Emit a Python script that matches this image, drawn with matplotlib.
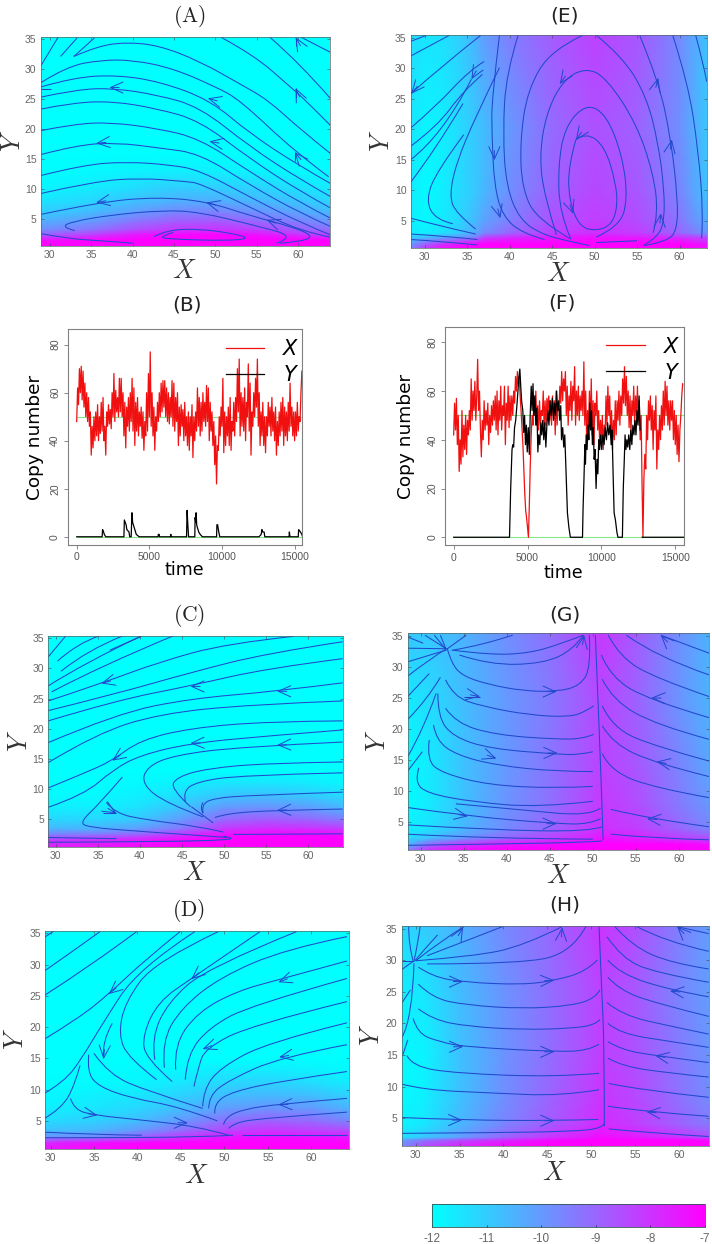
#!/usr/bin/env python3
"""
Stochastic switch figure: six landscape panels and two copy number traces.
"""

import numpy as np
import matplotlib
matplotlib.use('Agg')
import matplotlib.pyplot as plt
from matplotlib.cm import ScalarMappable
from matplotlib.colors import Normalize
from matplotlib.lines import Line2D
from matplotlib.patches import PathPatch
from matplotlib.path import Path

plt.rcParams['font.family'] = ['Liberation Sans', 'DejaVu Sans']
plt.rcParams['mathtext.fontset'] = 'cm'
plt.rcParams['axes.unicode_minus'] = False

W, H = 712, 1244
TICK_GRAY = '#666666'
LINE_BLUE = '#2148cc'

# ---- landscape values, rows run from low Y to high Y
heat_x_a = [28.9, 35, 40, 45, 50, 55, 60, 63.9]
heat_y_a = [0.5, 1.4, 2.3, 3.2, 4.5, 6, 8, 10, 13, 16, 35.3]
heat_a = [
    [-7, -7, -7, -7, -7, -7, -7, -7],
    [-7.3, -7.1, -7, -7, -7, -7, -7, -7],
    [-8.8, -8.2, -7.5, -7.1, -7.1, -7.3, -7.9, -8.3],
    [-9.8, -9.3, -8.6, -8.1, -8, -8.3, -8.8, -9.2],
    [-10.4, -10, -9.3, -8.8, -8.7, -9, -9.5, -9.9],
    [-11, -10.6, -10.1, -9.6, -9.5, -9.8, -10.2, -10.6],
    [-11.5, -11.2, -10.8, -10.5, -10.4, -10.6, -10.9, -11.2],
    [-11.8, -11.6, -11.3, -11, -11, -11.1, -11.4, -11.6],
    [-12, -11.9, -11.8, -11.7, -11.7, -11.8, -11.9, -11.9],
    [-12, -12, -12, -12, -12, -12, -12, -12],
    [-12, -12, -12, -12, -12, -12, -12, -12],
]

heat_x_e = [28.35, 30, 32, 34, 36, 37, 40, 45, 50, 55, 60, 63.2]
heat_y_e = [0.46, 1.2, 2.3, 3, 5, 10, 20, 35.4]
heat_e = [
    [-9.5, -8.2, -7.3, -7, -7, -7, -7, -7, -7, -7, -7, -7.3],
    [-10, -9, -8, -7.5, -7.1, -7, -7, -7, -7, -7, -7, -7.5],
    [-11, -10.8, -10.4, -9.9, -9.5, -8.4, -7.9, -7.6, -7.4, -7.6, -8, -8.6],
    [-11.6, -11.7, -11.4, -11, -10.3, -9.7, -9, -8.3, -7.9, -8.2, -9, -9.9],
    [-11.7, -11.9, -11.6, -11.2, -10.6, -10.2, -9.5, -8.6, -8.2, -8.5, -9.3, -10.4],
    [-11.6, -11.9, -11.7, -11.3, -10.9, -10.6, -9.8, -8.9, -8.4, -8.7, -9.6, -10.8],
    [-11.5, -11.8, -11.7, -11.3, -10.9, -10.7, -10, -9.1, -8.6, -8.9, -9.8, -10.9],
    [-11.3, -11.5, -11.4, -11.1, -10.5, -10.1, -9.5, -8.8, -8.3, -8.7, -9.7, -10.8],
]

heat_x_c = [29.1, 35, 40, 45, 50, 55, 60, 64.1]
heat_y_c = [0.42, 1.5, 2.5, 3.5, 5, 7, 9, 11, 13, 35.4]
heat_c = [
    [-7.6, -7.4, -7.2, -7, -7, -7, -7, -7],
    [-8, -7.7, -7.4, -7.1, -7, -7, -7, -7],
    [-9.5, -9.3, -8.9, -8, -7.3, -7.1, -7.1, -7.2],
    [-10.6, -10.5, -10.1, -9.3, -8.1, -7.9, -8, -8.2],
    [-11.2, -11.2, -10.9, -10, -9.1, -8.8, -9, -9.4],
    [-11.7, -11.7, -11.4, -10.8, -10, -9.9, -10.1, -10.6],
    [-11.9, -11.9, -11.7, -11.3, -10.9, -10.8, -11, -11.3],
    [-12, -12, -11.9, -11.7, -11.5, -11.5, -11.6, -11.8],
    [-12, -12, -12, -12, -12, -12, -12, -12],
    [-12, -12, -12, -12, -12, -12, -12, -12],
]

heat_x_d = [29.4, 35, 40, 45, 50, 55, 60, 64.3]
heat_y_d = [0.5, 1.5, 2.5, 3.5, 5, 7, 9, 11, 13, 15, 35.4]
heat_d = [
    [-7.4, -7.2, -7, -7, -7, -7, -7, -7],
    [-7.8, -7.3, -7.1, -7, -7, -7, -7, -7],
    [-9.9, -9.7, -9, -8.2, -7.6, -7.3, -7.4, -7.6],
    [-10.8, -10.6, -10, -9.2, -8.4, -8.1, -8.3, -8.5],
    [-11.3, -11.1, -10.7, -10, -9.2, -8.9, -9.1, -9.6],
    [-11.7, -11.5, -11.2, -10.7, -10.1, -9.9, -10, -10.5],
    [-11.9, -11.7, -11.5, -11.1, -10.7, -10.6, -10.7, -11.1],
    [-12, -11.9, -11.8, -11.5, -11.2, -11.1, -11.3, -11.6],
    [-12, -12, -11.9, -11.8, -11.6, -11.6, -11.7, -11.9],
    [-12, -12, -12, -12, -12, -12, -12, -12],
    [-12, -12, -12, -12, -12, -12, -12, -12],
]

heat_x_g = [28.5, 31, 35, 40, 45, 50, 51, 55, 60, 63.5]
heat_y_g = [0.6, 1.5, 2.5, 4, 8, 15, 25, 35.5]
heat_g = [
    [-9.5, -8, -7.4, -7, -7, -7, -7, -7, -7, -7],
    [-10.5, -9, -8, -7.5, -7.2, -7, -7, -7, -7, -7.3],
    [-11.3, -10.8, -10, -9, -8.3, -7.6, -7.4, -7.7, -8.2, -8.6],
    [-11.7, -11.4, -10.6, -9.7, -9, -8.1, -7.9, -8.2, -9, -9.6],
    [-11.9, -11.6, -10.8, -9.9, -9.2, -8.3, -8.1, -8.5, -9.4, -10],
    [-11.9, -11.6, -10.8, -10, -9.3, -8.5, -8.3, -8.7, -9.6, -10.3],
    [-11.6, -11.3, -10.7, -10, -9.4, -8.6, -8.4, -8.9, -9.9, -10.5],
    [-10.9, -10.9, -10.5, -9.8, -9.2, -8.3, -8.1, -8.8, -9.8, -10.5],
]

heat_x_h = [28.4, 31, 35, 40, 45, 50, 51, 55, 60, 63.4]
heat_y_h = [0.6, 1.5, 2, 4, 8, 15, 25, 35.4]
heat_h = [
    [-9.7, -8.5, -7.7, -7.2, -7, -7, -7, -7, -7, -7],
    [-10, -9.2, -8.4, -7.8, -7.2, -7, -7, -7, -7, -7.1],
    [-11.4, -10.9, -10.1, -9, -8.1, -7.4, -7.2, -7.5, -8, -8.5],
    [-11.8, -11.5, -10.6, -9.6, -8.8, -8, -7.8, -8.2, -8.9, -9.4],
    [-11.9, -11.7, -10.8, -9.8, -9, -8.2, -8, -8.4, -9.2, -9.7],
    [-11.9, -11.8, -10.8, -9.9, -9.2, -8.4, -8.2, -8.6, -9.4, -9.9],
    [-11.7, -11.5, -10.7, -9.9, -9.2, -8.5, -8.3, -8.7, -9.6, -10.1],
    [-11.2, -11, -10.5, -9.7, -9.1, -8.3, -8, -8.6, -9.5, -10.1],
]

# ---- streamlines as (X, Y) points
streams_a = [
    [(28.9, 30.5), (30, 33), (31, 35.3)],
    [(31.3, 32.1), (33.3, 35.2)],
    [(32.9, 32.1), (35.4, 35.2)],
    [(50.7, 35.3), (54.6, 32.4), (59, 27.1), (60.9, 24.8), (63.9, 20.6)],
    [(56.6, 35.3), (60.2, 31), (63.9, 25.1)],
    [(60.4, 35.3), (63.9, 32.8)],
    [(59.7, 35.3), (59.7, 33.8)],
    [(59.7, 26.8), (59.7, 25.1)],
    [(59.6, 16.2), (59.6, 14.7)],
    [(28.9, 26.7), (30.1, 26.7)],
    [(32.9, 32.1), (35.7, 33.8), (39.3, 34.5), (43.3, 33.9), (48.1, 31.3), (53, 27.5), (56.4, 24.8), (60.2, 20), (63.9, 15.9)],
    [(28.9, 27.7), (32, 30.4), (36.1, 31.5), (40.1, 31.5), (44.9, 30.1), (50.1, 27), (53, 24.8), (59.6, 16.2), (63.7, 12)],
    [(28.9, 27), (32.9, 28.6), (38.1, 29), (43.3, 27.9), (49.4, 24.8), (54.2, 19.2), (60.3, 13.7), (63.9, 10.9)],
    [(28.9, 25.3), (33.3, 26.6), (37.7, 26.8), (42.9, 25.7), (48.1, 23.7), (54.2, 17), (60.3, 11.5), (63.9, 8.7)],
    [(28.9, 23.3), (32.9, 24.4), (37.7, 24.6), (42.9, 23.4), (48.1, 21.4), (54.2, 15), (60.3, 9.5), (63.9, 6.8)],
    [(28.9, 19.7), (32.9, 20.8), (37.3, 21.1), (42.9, 20.1), (48.1, 18.4), (54.2, 12.8), (60.3, 7.6), (63.9, 5.1)],
    [(28.9, 15.7), (33.3, 17.3), (38.1, 17.7), (43.3, 16.8), (48.1, 15.9), (54.2, 10.6), (60.3, 5.9), (63.9, 3.7)],
    [(28.9, 12.2), (34.1, 14), (39.3, 14.5), (44.5, 14), (48.1, 13.1), (54.2, 8.6), (60.3, 4.3), (63.9, 2.3)],
    [(28.9, 9.2), (35.3, 11.2), (40.9, 11.8), (46.5, 11.2), (48.1, 10.9), (54.2, 6.9), (60.3, 2.9), (63.9, 1.9)],
    [(28.9, 5.7), (36.1, 7.8), (42.9, 8.6), (48.9, 7.9), (54.2, 5.5), (59.4, 3.6), (62, 2), (60, 1.1), (57.8, 0.9)],
    [(33, 3), (31.4, 3.6), (32.7, 4.5), (37.3, 5.6), (43.7, 6.4), (48.1, 6.1), (54.7, 3.9), (59.8, 2), (57.4, 0.9)],
    [(28.9, 2.5), (32, 1.7), (36.1, 1.3), (40.1, 0.9)],
    [(42.6, 2), (44.1, 3.1), (48.1, 3.3), (52.2, 2.5), (54.2, 1.7), (51.4, 1.3), (44.1, 1.6), (43.3, 2), (44.9, 2.7)],
]
arrows_a = [
    (37.2, 26.9, 180), (49.1, 25.1, 165), (35.6, 17.6, 185), (49.3, 17.9, 170),
    (59.7, 26.8, 115), (59.6, 16.1, 130), (35.6, 7.7, 190), (48.9, 7.7, 165),
    (56.2, 4.8, 160), (59.7, 35.3, 120),
]

streams_e = [
    [(28.35, 34.4), (30.2, 35.4)],
    [(28.35, 32), (32.9, 35.4)],
    [(28.35, 25.8), (31.7, 30), (36.6, 35.4)],
    [(28.35, 20.2), (31.3, 23.7), (35.3, 29.7), (37, 31.1)],
    [(28.35, 17.2), (31.5, 20.5), (34.5, 26.2), (36.8, 29)],
    [(28.35, 15), (32.1, 19), (35.5, 28.2)],
    [(28.35, 11.3), (31.3, 16.7), (34.5, 24.2)],
    [(38.8, 30.1), (36, 22.1), (33.7, 14.4), (32.9, 9), (33.7, 6.2), (36, 3.6)],
    [(34.6, 19.1), (31.5, 13.3), (30.1, 8.4), (31.3, 5.1), (33.3, 4.5)],
    [(28.35, 5.4), (32.1, 4), (36, 2.8)],
    [(28.35, 2.8), (32.1, 2.5), (36.2, 1.9)],
    [(28.35, 1.9), (32.1, 1.6), (36.2, 1)],
    [(38.8, 35.4), (37.9, 25), (37.9, 19.4), (38.2, 10.6), (39.2, 5.7), (41.5, 2.9), (44.1, 1.9)],
    [(41, 35.4), (39.6, 29.2), (39.2, 19.4), (39.6, 10.6), (41.2, 5.1), (43.9, 2.7), (47, 1.6), (49.4, 0.9)],
    [(48.6, 35.4), (44.9, 33), (42.1, 26.5), (41.2, 17.7), (41.5, 10), (43.3, 5.1), (47.2, 1.96)],
    [(50.2, 35.4), (53.3, 31.9), (56.1, 25.4), (57.5, 17.7), (58.2, 10), (58.2, 5.1), (57.5, 2.3), (55.7, 0.9)],
    [(55.3, 35.4), (57.5, 28.1), (59, 18.3), (59.8, 8.4), (59.7, 3.5), (58.6, 1.6), (55.9, 0.9)],
    [(59.2, 35.4), (61, 27.6), (62.2, 16.6), (62.8, 6.2), (62.6, 2.1)],
    [(61.9, 35.4), (62.8, 30.8), (63.2, 27.8)],
    [(45.5, 2.7), (44.1, 9), (43.5, 15.5), (44.3, 22.6), (46.3, 28.1), (49, 30.1), (51.4, 28.4), (54.9, 21), (56.9, 12.8), (57.5, 6.2), (56.9, 3)],
    [(47.2, 2), (45.9, 6.2), (45.7, 13.9), (46.5, 20.4), (49, 24.2), (51.4, 22.4), (53.3, 15.5), (53.9, 8.4), (52.9, 4), (50.2, 2.3)],
    [(47.8, 18.3), (49, 19.5), (51.2, 17.2), (52.5, 11.2), (52.7, 7.3), (52, 4.3), (50.2, 3.3), (48.2, 4), (47, 8.4), (46.9, 13.9), (47.8, 18.3)],
    [(50.2, 1.4), (55, 1.7)],
]
arrows_e = [
    (38.2, 14.9, 270), (38.9, 5.4, 285), (35.5, 28.2, 240), (28.4, 25.8, 230),
    (45.9, 27.4, 235), (47.8, 18.2, 235), (47.5, 6.1, 290), (57.5, 28.4, 75),
    (59.1, 18.3, 80), (57.8, 6.2, 85),
]

streams_c = [
    [(29.1, 31.9), (31.2, 35.4)],
    [(30.2, 31.2), (32.5, 34.1), (35.2, 35.4)],
    [(30.6, 29.5), (33.7, 33), (38, 35.4)],
    [(29.1, 27.1), (33.3, 30.8), (40.2, 35.4)],
    [(29.5, 26.1), (35.2, 30.3), (44, 35.4)],
    [(36.4, 33), (40.2, 35.3)],
    [(29.1, 24.6), (35.4, 27.5), (42.4, 31.1), (50.3, 34.1), (58.3, 35.3)],
    [(29.1, 23), (37.2, 25.8), (46, 29.3), (55.1, 32.5), (64.1, 34.4)],
    [(29.1, 21.3), (37.2, 24.7), (46, 27.1), (55.1, 30), (64.1, 31.6)],
    [(29.1, 17.7), (37.2, 22.5), (46, 25), (56.3, 26.2), (64.1, 27.6)],
    [(29.1, 14.4), (34.8, 19.2), (42.4, 22.5), (53.1, 24), (64.1, 24.6)],
    [(29.1, 10.2), (33.3, 12.6), (36.7, 14.7), (40, 18.1), (46, 20.1), (55.1, 21.2), (64.1, 21.3)],
    [(29.1, 7), (33.3, 9), (36.8, 13.2), (40, 15.6), (46, 17.6), (55.1, 18.8), (64.1, 19.8)],
    [(47.5, 5.4), (43.2, 7.6), (40.2, 10.8), (40.8, 13.7), (44, 15.6), (51.9, 17), (64.1, 17.8)],
    [(46, 7.1), (43.6, 10.1), (44.4, 12), (47.9, 13.4), (55.1, 14.3), (64.1, 14.5)],
    [(45.4, 7.9), (45.1, 9.6), (46.7, 11.2), (51.9, 12.3), (64.1, 12.7)],
    [(47.5, 6), (47.3, 7.4), (48.7, 8.5), (53.5, 9), (64.1, 9.5)],
    [(48.9, 5.3), (50.3, 6), (56.3, 6.5), (64.1, 6.7)],
    [(37.9, 12), (35.2, 7.6), (32.9, 4.6), (33.7, 3.7), (40, 3), (50.3, 2)],
    [(36, 7.8), (37, 6), (40.8, 4.9), (47.1, 3.8), (49.9, 2.9)],
    [(35.6, 6), (37.2, 6)],
    [(29.1, 2), (37.2, 1.8)],
    [(29.1, 1.2), (43.2, 1.3), (50.7, 1.6), (50.9, 2), (49.9, 2.2)],
    [(51.1, 2.5), (64.1, 2.6)],
    [(46.1, 7.1), (48.7, 4.4)],
    [(47.5, 6), (47.1, 7), (47.5, 7.8)],
]
arrows_c = [
    (35.4, 27.5, 195), (46, 27, 180), (56.3, 26.2, 180), (46, 17.6, 182),
    (56.3, 17.3, 182), (36.7, 14.7, 215), (56.3, 6.5, 182), (37.2, 6, 330),
]

streams_d = [
    [(29.2, 34.3), (30.3, 35.3)],
    [(29.2, 28.9), (32.5, 32.1), (35.7, 35.3)],
    [(29.2, 25), (34.8, 30), (39.9, 35.3)],
    [(29.2, 18), (33.2, 21.4), (36.7, 25.3), (40.9, 30.8), (44.9, 35.3)],
    [(29.2, 9.3), (31.6, 11.3), (33.6, 15), (35.9, 20.4), (40.1, 29.4), (46.6, 35.3)],
    [(29.2, 5.3), (31.3, 7), (32.8, 10.8), (33.4, 13.9)],
    [(37.1, 20.6), (35.9, 17.7), (36.1, 15)],
    [(42.2, 11.6), (39, 15), (37.8, 18.8), (38.6, 24.1), (42, 30.5), (49.3, 35.3)],
    [(44, 11.3), (40.9, 15), (40.6, 18.8), (42.4, 24.1), (46.3, 27.9), (54.1, 35.3)],
    [(42, 14.8), (41.6, 18.2), (43.5, 24), (48, 29.5), (58.3, 35.3)],
    [(43.1, 13.5), (42.8, 17.7), (45, 23), (49.5, 28), (57, 32.5), (64.1, 34.5)],
    [(44.4, 13.2), (44.2, 17.2), (47, 22.5), (51.5, 25.8), (56.2, 27.6), (64.1, 30.6)],
    [(45.5, 11.6), (45.7, 15.6), (48.3, 20), (53, 23.5), (64.1, 27.8)],
    [(46.5, 10.5), (47, 13.6), (47.8, 16.6), (53, 20.3), (64.1, 24.1)],
    [(47.5, 7.3), (47.6, 10), (49.5, 13.5), (55, 17.6), (64.1, 20.7)],
    [(48.2, 7), (48.2, 9), (50.5, 11.5), (56.4, 15.2), (64.1, 17.2)],
    [(48.9, 6.2), (48.8, 7.8), (50.9, 9.7), (57, 11.5), (64.1, 12.9)],
    [(49.9, 4.4), (50.1, 5.5), (52, 6.8), (56.2, 7.7), (64.1, 8.6)],
    [(50.5, 3.8), (51, 4.6), (54, 5.4), (64.1, 6.4)],
    [(52, 2.8), (64.1, 2.8)],
    [(35, 15.8), (36.7, 12.4), (41.3, 9.7), (47.5, 7)],
    [(34.4, 15.6), (34.2, 12.9), (35.5, 10.5), (39.4, 8.6), (44.7, 7.3), (49.2, 5)],
    [(32.3, 8.6), (32.7, 6.8), (35.1, 5.9), (40.1, 5.2), (47, 4.1), (50.5, 2.7)],
    [(29.2, 3.2), (34.8, 2.8), (40.5, 2.7)],
    [(29.2, 2.3), (35, 2.3), (47, 2.4), (51, 2.7)],
]
arrows_d = [
    (36.7, 25.3, 220), (46.2, 27.7, 220), (56.2, 27.2, 200), (47.5, 16.5, 200),
    (56.3, 15.2, 190), (56.2, 7.6, 182), (45.8, 4.7, 0), (35.4, 5.9, 350),
    (36.1, 14.9, 265),
]

streams_g = [
    [(28.5, 33.1), (33.1, 33)],
    [(28.5, 34.9), (30.3, 33.9)],
    [(28.5, 30.9), (33, 32.8)],
    [(28.5, 28.6), (31.2, 31.5), (33, 33)],
    [(28.5, 25.3), (31, 29)],
    [(28.5, 21.6), (30.7, 24.7), (32.3, 28.4)],
    [(28.5, 15.6), (30.3, 19.9), (31.8, 25.8)],
    [(28.5, 13.3), (30.2, 16.4)],
    [(30.5, 35.2), (33, 33)],
    [(31.6, 35.2), (32.8, 33.1)],
    [(32.3, 35.2), (32.9, 33.1)],
    [(33.1, 33), (35.3, 35.2)],
    [(35, 25.3), (36.9, 25.3)],
    [(33.1, 33), (33.6, 30.6), (34.9, 28.6), (38, 27.2), (42, 26.2), (45.8, 26.1), (48.5, 27), (49.8, 30), (49.6, 35.2)],
    [(33.8, 32.8), (37.2, 33.6), (40.7, 35.2)],
    [(33.6, 32.8), (38, 32), (42.7, 32.3), (46.5, 33.9), (48.9, 35.2)],
    [(34.5, 32), (38, 30.4), (44.2, 30.6), (47.7, 32.8), (48.9, 35.2)],
    [(32.9, 28), (33.8, 25.3), (37.2, 23.7), (42.7, 22.3), (47.3, 22), (49.2, 22.9), (50.1, 23.8)],
    [(32.9, 23.4), (34.1, 21), (38.8, 19.1), (45.8, 18.4), (48.9, 18.5), (50.1, 19.2)],
    [(32, 25.8), (32, 22), (33.8, 18.8), (38, 16.9), (45.8, 16), (48.5, 15.9), (50, 16.4)],
    [(31.5, 20.7), (31.8, 18.3), (34.1, 15.9), (38.8, 14.2), (45.8, 13.2), (50, 13.2)],
    [(31, 18.3), (30.7, 15), (32.6, 12.9), (38, 11), (45.8, 10.5), (50, 10.8)],
    [(29.8, 13.8), (29.3, 11.6), (30.7, 9.7), (36.1, 8.3), (43.8, 7.4), (50, 8.4)],
    [(34.1, 8), (41.9, 7), (49.6, 6), (50.9, 7.3)],
    [(28.5, 7.4), (35.5, 6), (45.8, 4.8), (49.6, 4.7), (50.9, 5.6)],
    [(28.5, 4.6), (38, 3.8), (49.6, 3.5), (51.1, 4.3)],
    [(28.5, 3.1), (38, 2.4), (50, 2.3)],
    [(28.5, 1.3), (38, 1.5), (49.6, 1.8), (51.1, 2)],
    [(50.3, 35.2), (50.6, 24.8), (51, 10.8), (51.2, 2.2)],
    [(57.9, 35.2), (63.5, 32.3)],
    [(53.9, 35.2), (57.4, 31.7), (63.5, 28.8)],
    [(51.8, 35.2), (53.1, 31.7), (57.4, 28.2), (63.5, 25.3)],
    [(51, 32), (52, 28.5), (56.6, 24.7), (63.5, 21.9)],
    [(51.1, 28.1), (52.3, 24.7), (57.4, 20.7), (63.5, 18.4)],
    [(51.1, 23.8), (52.3, 20.2), (57.4, 17.2), (63.5, 14.9)],
    [(51.1, 20.6), (52.3, 17.7), (57.4, 14.5), (63.5, 12.4)],
    [(51.1, 16.1), (52.1, 13.2), (57.4, 10.5), (63.5, 9)],
    [(52.1, 7.1), (56.6, 5.6), (63.5, 4.3)],
    [(52.1, 3.1), (57.4, 2.4), (63.5, 2.2)],
]
arrows_g = [
    (45.8, 26.1, 0), (36.9, 25.3, 350), (45.9, 16.2, 0), (38.8, 15.3, 340),
    (35.5, 6, 350), (45.8, 4.8, 0), (56.8, 25.1, 178), (57.4, 14.8, 170),
    (56.3, 5.6, 175), (57.9, 35.2, 135), (49, 35.2, 80),
]

streams_h = [
    [(29.2, 35.3), (29.2, 32.4), (29.7, 29.9)],
    [(30.5, 35.3), (30.2, 32.2), (29.8, 29.9)],
    [(32.5, 34), (31.1, 31.9), (29.9, 29.9)],
    [(35.5, 35.3), (33, 33.2), (30, 29.9)],
    [(39.9, 35.3), (36, 33.2), (31.3, 30.7)],
    [(46.7, 35.3), (42.2, 32.2), (36.5, 30.6), (30, 29.9)],
    [(49.4, 35.3), (47.8, 31.3), (42.2, 29.4), (31.3, 29.4)],
    [(28.4, 29.9), (29.8, 29.9)],
    [(28.4, 28.5), (29.8, 29.9)],
    [(28.4, 23.2), (29.4, 25.3)],
    [(28.4, 17.7), (29.6, 20.6), (29.8, 29.5)],
    [(28.5, 14.9), (29.1, 17.4)],
    [(30.3, 28.9), (31.9, 27.4), (35.5, 26.5), (42.2, 26.1), (45.9, 26.8), (49.4, 28.2), (50.7, 30)],
    [(30.3, 26.2), (31.9, 24), (35.7, 22.9), (42.2, 22.3), (47.8, 22.8), (50.5, 24), (51, 25.3)],
    [(30.3, 22.3), (31.9, 20.6), (36, 19.5), (42.2, 19), (47.8, 19.2), (50.5, 19.8), (51, 20.6)],
    [(29.7, 20.8), (30.2, 18.4), (32.7, 17.1), (35.5, 16.3), (45.9, 15.5), (49.7, 15.7), (50.9, 16.7)],
    [(29, 14.9), (29.6, 13.2), (34.6, 12.1), (45.9, 11.5), (50.9, 12.1)],
    [(28.4, 10.4), (30.8, 9.5), (38.4, 9), (46.7, 8.5), (50.9, 9.5)],
    [(28.4, 5.1), (35.3, 4.7), (45.9, 4.6), (50.8, 4.8)],
    [(28.4, 2.6), (38.4, 2.7), (47.8, 2.9), (51.3, 3.4), (51.5, 4.2)],
    [(50.9, 35.3), (51.2, 25.3), (51.5, 16.3), (51.5, 3.7)],
    [(59.8, 35.3), (63.4, 34.2)],
    [(55.2, 35.3), (58.5, 32.9), (63.4, 31.4)],
    [(52.7, 35.3), (54.7, 32.2), (59.2, 29.5), (63.4, 28.6)],
    [(51.8, 33.7), (53.5, 30.3), (57.3, 28), (63.4, 26.5)],
    [(51.9, 30), (53.2, 27.9), (58.9, 25.3), (63.4, 24.2)],
    [(51.9, 27.3), (53.2, 25.3), (57.3, 23.2), (63.4, 21.1)],
    [(51.8, 23.3), (53.5, 21.3), (59.2, 19.5), (63.4, 18.3)],
    [(51.9, 20), (53.2, 18.4), (59.2, 17.1), (63.4, 16.2)],
    [(51.9, 17.1), (53.5, 15.8), (57.3, 14.9), (63.4, 13.8)],
    [(51.9, 14.5), (53.5, 13.2), (59.2, 12.1), (63.4, 11.5)],
    [(52, 10.5), (55.4, 9.5), (63.4, 8.3)],
    [(51.9, 6.9), (56.2, 6), (63.4, 5.3)],
    [(52, 3.3), (57.3, 2.6), (63.4, 2.1)],
]
arrows_h = [
    (35.4, 26.6, 0), (45.8, 26.8, 2), (59, 25.1, 175), (35.4, 16.3, 0),
    (45.8, 15.5, 0), (57.3, 14.9, 170), (35.3, 4.7, 0), (45.8, 4.6, 0),
    (56.3, 6, 175), (59.8, 35.3, 135), (46.7, 35.2, 85), (35.4, 35.2, 60),
]

# ---- copy number traces, 16 red samples per 1000 time units
red_b = [
    48, 62, 55, 70, 60, 71, 57, 69, 54, 64, 50, 60, 48, 58, 46, 52,
    34, 46, 37, 50, 40, 52, 42, 55, 40, 50, 43, 56, 44, 58, 40, 46,
    34, 52, 46, 55, 47, 53, 45, 60, 50, 68, 48, 61, 52, 58, 50, 66,
    52, 66, 50, 60, 42, 56, 37, 54, 46, 58, 44, 60, 48, 66, 44, 62,
    38, 56, 44, 58, 42, 52, 46, 54, 41, 52, 36, 48, 42, 60, 44, 68,
    50, 77, 46, 60, 42, 54, 36, 50, 44, 56, 48, 60, 50, 64, 52, 65,
    54, 65, 50, 62, 48, 60, 47, 58, 50, 65, 46, 64, 44, 58, 48, 60,
    38, 54, 42, 55, 46, 53, 40, 56, 42, 50, 38, 52, 36, 50, 42, 55,
    33, 50, 40, 52, 44, 62, 46, 58, 42, 56, 44, 60, 48, 56, 46, 63,
    48, 62, 40, 56, 44, 52, 38, 48, 30, 42, 22, 38, 36, 50, 42, 54,
    46, 66, 35, 52, 38, 50, 42, 54, 38, 58, 36, 48, 44, 56, 42, 58,
    48, 70, 52, 74, 42, 60, 46, 58, 44, 62, 40, 56, 50, 72, 44, 64,
    34, 52, 46, 60, 50, 66, 54, 74, 46, 60, 38, 52, 42, 56, 38, 50,
    35, 50, 42, 56, 46, 54, 42, 58, 44, 52, 40, 54, 34, 48, 38, 52,
    42, 56, 44, 58, 38, 54, 42, 52, 40, 56, 44, 64, 46, 54, 42, 52,
    40, 52, 42, 56, 44, 50, 48, 60, 69,
]
black_time_b = [
    0, 1750, 1780, 1850, 1900, 2000, 2050, 3250, 3280, 3400, 3450, 3600, 3650,
    3750, 3800, 3850, 3950, 4100, 4300, 5600, 5620, 5680, 5700, 6450, 6480,
    6500, 7560, 7600, 7650, 7700, 8130, 8150, 8200, 8220, 8260, 8300, 8400,
    8500, 8650, 8700, 9630, 9650, 9700, 9780, 9850, 12550, 12700, 12750, 12800,
    12900, 12950, 14620, 14640, 14680, 15250, 15280, 15400, 15500, 15550,
]
black_b = [
    0, 0, 3, 2, 1, 0, 0, 0, 7, 5, 3, 2, 0,
    0, 10, 6, 4, 1, 0, 0, 1, 1, 0, 0, 1,
    0, 0, 11, 5, 0, 0, 8, 6, 10, 5, 4, 2,
    1, 0, 0, 0, 5, 5, 2, 0, 0, 1, 3, 2,
    2, 0, 0, 2, 0, 0, 3, 2, 1, 0,
]

red_f = [
    42, 55, 44, 57, 38, 50, 27, 40, 30, 52, 33, 46, 36, 50, 34, 48,
    42, 52, 44, 65, 48, 60, 52, 64, 48, 58, 73, 52, 60, 44, 33, 48,
    40, 56, 44, 52, 46, 55, 38, 50, 43, 54, 46, 56, 48, 58, 44, 60,
    42, 56, 48, 62, 44, 54, 50, 62, 38, 55, 48, 62, 45, 58, 48, 58,
    50, 60, 55, 66, 60, 68, 62, 66, 58, 52, 45, 38, 28, 18, 11, 8,
    4, 0, 14, 30, 42, 50, 46, 58, 50, 60, 46, 54, 44, 56, 46, 52,
    50, 60, 44, 56, 46, 57, 52, 58, 48, 56, 46, 58, 50, 56, 42, 60,
    46, 54, 52, 62, 55, 68, 56, 65, 60, 68, 50, 62, 46, 58, 52, 64,
    48, 62, 56, 70, 46, 60, 50, 62, 48, 58, 52, 60, 50, 72, 46, 60,
    40, 52, 44, 60, 46, 65, 42, 56, 38, 55, 50, 60, 44, 52, 40, 48,
    40, 50, 36, 46, 42, 58, 46, 62, 50, 58, 42, 52, 36, 48, 40, 56,
    42, 56, 48, 60, 46, 58, 50, 65, 55, 70, 54, 66, 50, 60, 45, 58,
    42, 56, 50, 62, 46, 58, 50, 62, 48, 56, 40, 50, 22, 0, 24, 34,
    28, 50, 40, 56, 48, 58, 44, 54, 36, 52, 44, 58, 28, 44, 36, 50,
    40, 54, 44, 60, 46, 64, 50, 62, 46, 56, 44, 56, 48, 56, 40, 52,
    38, 50, 34, 46, 31, 44, 50, 58, 63,
]
black_time_f = [
    0, 3780, 3860, 3950, 4000, 4060, 4120, 4200, 4280, 4350, 4420, 4480, 4540,
    4600, 4680, 4740, 4800, 4860, 4920, 4980, 5050, 5120, 5180, 5250, 5310,
    5370, 5430, 5500, 5560, 5630, 5700, 5760, 5830, 5900, 5960, 6030, 6100,
    6170, 6240, 6310, 6380, 6450, 6520, 6600, 6680, 6760, 6830, 6900, 6970,
    7040, 7110, 7180, 7250, 7300, 7380, 7450, 7520, 7600, 7700, 7800, 7900,
    8720, 8760, 8820, 8880, 8920, 8970, 9030, 9090, 9150, 9210, 9270, 9330,
    9390, 9450, 9510, 9570, 9640, 9700, 9760, 9820, 9880, 9950, 10020, 10100,
    10180, 10260, 10340, 10420, 10500, 10580, 10660, 10720, 10800, 10860,
    10950, 11050, 11120, 11420, 11480, 11550, 11600, 11660, 11720, 11780,
    11850, 11920, 11990, 12060, 12130, 12200, 12270, 12340, 12410, 12480,
    12550, 12620, 12700, 12760, 12860, 15550,
]
black_f = [
    0, 0, 20, 36, 38, 37, 45, 48, 54, 60, 66, 69, 62,
    56, 52, 43, 50, 38, 46, 35, 45, 34, 50, 62, 52,
    63, 50, 58, 46, 53, 35, 42, 38, 47, 42, 48, 40,
    47, 37, 46, 52, 46, 56, 50, 57, 48, 55, 50, 60,
    52, 56, 48, 54, 40, 45, 37, 42, 28, 10, 4, 0,
    0, 12, 24, 38, 30, 42, 36, 46, 40, 55, 44, 52,
    38, 45, 32, 36, 20, 32, 26, 40, 36, 42, 36, 42,
    38, 45, 40, 47, 42, 46, 38, 44, 24, 10,
    7, 2, 0, 0, 20, 32, 42, 36, 40, 37,
    42, 36, 44, 38, 46, 42, 48, 42, 52, 46,
    58, 44, np.nan, 0, 0, 0,
]
green_level_x = 50
green_level_y = 0

x_ticks = [30, 35, 40, 45, 50, 55, 60]
y_ticks = [5, 10, 15, 20, 25, 30, 35]
time_ticks = [0, 5000, 10000, 15000]
count_ticks = [0, 20, 40, 60, 80]
cbar_ticks = [-12, -11, -10, -9, -8, -7]


def box(left, top, right, bottom):
    """Axes rectangle from reference pixel edges."""
    return [left / W, 1 - bottom / H, (right - left) / W, (bottom - top) / H]


def fig_text(fig, x, y, text, **kw):
    fig.text(x / W, 1 - y / H, text, ha='center', va='center', **kw)


def add_stream(ax, points):
    """Draw a streamline as a quadratic spline through its read points."""
    pts = np.array(points, dtype=float)
    if len(pts) == 2:
        path = Path(pts)
    else:
        verts = [pts[0]]
        codes = [Path.MOVETO]
        for i in range(1, len(pts) - 1):
            end = pts[-1] if i == len(pts) - 2 else (pts[i] + pts[i + 1]) / 2
            verts += [pts[i], end]
            codes += [Path.CURVE3, Path.CURVE3]
        path = Path(verts, codes)
    ax.add_patch(PathPatch(path, fc='none', ec=LINE_BLUE, lw=0.75, clip_on=True))


def landscape(fig, rect, xlim, ylim, heat_x, heat_y, heat, streams, arrows):
    ax = fig.add_axes(rect)
    ax.pcolormesh(heat_x, heat_y, np.array(heat), cmap='cool', vmin=-12, vmax=-7,
                  shading='gouraud')
    for points in streams:
        add_stream(ax, points)
    for x, y, heading in arrows:
        a = np.radians(heading)
        ax.annotate('', xy=(x, y), xytext=(-7 * np.cos(a), -7 * np.sin(a)),
                    textcoords=('offset points'),
                    arrowprops=dict(arrowstyle='->,head_length=0.9,head_width=0.4',
                                    color=LINE_BLUE, lw=0.7, shrinkA=0, shrinkB=0,
                                    mutation_scale=10),
                    annotation_clip=False)
    ax.set_xlim(*xlim)
    ax.set_ylim(*ylim)
    ax.set_xticks(x_ticks)
    ax.set_yticks(y_ticks)
    ax.tick_params(direction='in', length=2, width=0.4, color='#444444',
                   labelsize=7.5, labelcolor=TICK_GRAY, pad=3, top=True, right=True)
    for side in ax.spines.values():
        side.set_linewidth(0.5)
        side.set_color('#556666')
    return ax


def trace(fig, rect, xlim, red, black_time, black):
    ax = fig.add_axes(rect)
    red_time = np.arange(len(red)) * 62.5
    ax.plot([0, 15550], [green_level_x, green_level_x], color='#86e886', lw=0.8)
    ax.plot([0, 15550], [green_level_y, green_level_y], color='#86e886', lw=0.8)
    ax.plot(red_time, red, color='#f01010', lw=0.9)
    ax.plot(black_time, black, color='black', lw=0.9)
    ax.set_xlim(*xlim)
    ax.set_ylim(-3.3, 86.4)
    ax.set_xticks(time_ticks)
    ax.set_yticks(count_ticks)
    ax.tick_params(direction='out', length=3, width=0.6, color='#777777',
                   labelsize=7.5, labelcolor='#555555', pad=2.5)
    plt.setp(ax.get_yticklabels(), rotation=90, va='center')
    for side in ax.spines.values():
        side.set_linewidth(0.8)
        side.set_color('#808080')
    return ax


def legend_marks(fig, x0, x1, y_red, y_black, tx, ty_red, ty_black):
    fig.add_artist(Line2D([x0 / W, x1 / W], [1 - y_red / H] * 2, color='#f01010', lw=0.9))
    fig.add_artist(Line2D([x0 / W, x1 / W], [1 - y_black / H] * 2, color='black', lw=0.9))
    fig_text(fig, tx, ty_red, 'X', family='DejaVu Sans', style='italic', fontsize=15)
    fig_text(fig, tx, ty_black, 'Y', family='DejaVu Sans', style='italic', fontsize=15)


fig = plt.figure(figsize=(W / 100, H / 100), dpi=100)

landscape(fig, box(40.7, 37.3, 330.3, 245.7), (28.9, 63.9), (0.48, 35.3),
          heat_x_a, heat_y_a, heat_a, streams_a, arrows_a)
landscape(fig, box(410.7, 35.3, 706.7, 248.3), (28.35, 63.2), (0.46, 35.4),
          heat_x_e, heat_y_e, heat_e, streams_e, arrows_e)
landscape(fig, box(48.3, 635.7, 342.7, 847), (29.1, 64.1), (0.42, 35.4),
          heat_x_c, heat_y_c, heat_c, streams_c, arrows_c)
landscape(fig, box(407.7, 633.3, 709, 849.7), (28.5, 63.5), (0.6, 35.5),
          heat_x_g, heat_y_g, heat_g, streams_g, arrows_g)
landscape(fig, box(45.3, 931, 348.7, 1149), (29.4, 64.3), (0.5, 35.4),
          heat_x_d, heat_y_d, heat_d, streams_d, arrows_d)
landscape(fig, box(401.7, 926, 708.7, 1146), (28.4, 63.4), (0.6, 35.4),
          heat_x_h, heat_y_h, heat_h, streams_h, arrows_h)

trace(fig, box(67.7, 329.3, 302.3, 544.7), (-620, 15530), red_b, black_time_b, black_b)
trace(fig, box(445.3, 326.7, 684.3, 545.3), (-565, 15610), red_f, black_time_f, black_f)
legend_marks(fig, 226, 264, 347.7, 373.7, 290, 349, 375)
legend_marks(fig, 606, 645, 345, 371, 671, 347, 373)

# colour bar
cax = fig.add_axes(box(432.3, 1204.3, 705, 1227.3))
cb = fig.colorbar(ScalarMappable(Normalize(-12, -7), 'cool'), cax=cax,
                  orientation='horizontal', ticks=cbar_ticks)
cb.ax.tick_params(direction='in', length=1.5, width=0.4, labelsize=8.5,
                  labelcolor=TICK_GRAY, pad=4)
cb.outline.set_linewidth(0.6)
cb.outline.set_edgecolor('#335555')

# panel titles
for name, x, y in [('A', 189, 17), ('C', 189, 616), ('D', 189, 911)]:
    fig_text(fig, x, y, r'$\mathrm{(' + name + r')}$', fontsize=15.5, color='#222222')
for name, x, y in [('B', 187, 305), ('E', 564, 16), ('F', 562, 303), ('G', 565, 615), ('H', 565, 905)]:
    fig_text(fig, x, y, '(' + name + ')', family='DejaVu Sans', fontsize=14.5, color='#222222')

# axis labels
for x, y in [(184, 271), (558, 274), (194, 873), (558, 876), (196, 1176), (554, 1173)]:
    fig_text(fig, x, y, r'$X$', fontsize=19, color='#333333')
for x, y in [(13, 141), (382, 141), (20, 741), (378, 741), (16, 1039), (372, 1035)]:
    fig_text(fig, x, y, r'$Y$', fontsize=19, color='#333333', rotation=90)
for x, y, in [(35, 437), (406, 436)]:
    fig_text(fig, x, y, 'Copy number', family='DejaVu Sans', fontsize=13.3, rotation=90)
for x, y in [(184, 570), (563, 573)]:
    fig_text(fig, x, y, 'time', family='DejaVu Sans', fontsize=12.6)

fig.savefig('out.png', dpi=100)
